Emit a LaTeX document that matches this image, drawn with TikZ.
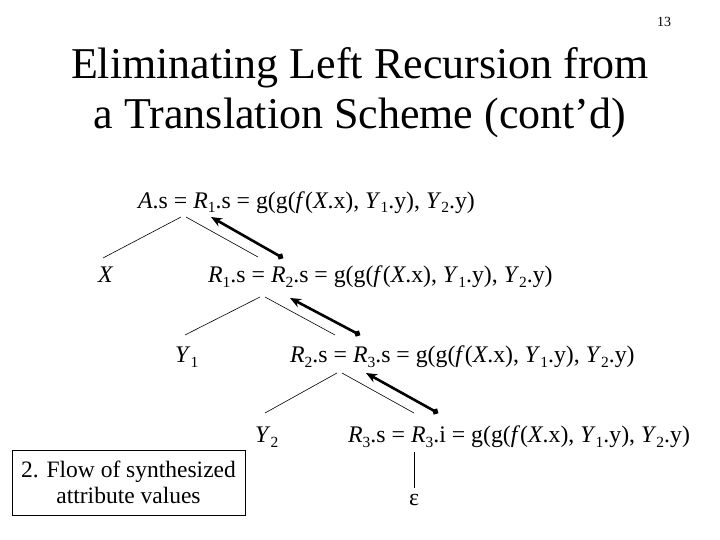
\documentclass[tikz,border=0pt]{standalone}
\usepackage{fontspec}
\setmainfont{Liberation Serif}
\usetikzlibrary{arrows.meta,positioning}
\newcommand{\attr}[2]{\textit{#1}\raisebox{-5pt}{\fontsize{15.5}{15.5}\selectfont #2}}
\newcommand{\gval}{g(g(\textit{f}(\textit{X}.x), \attr{Y}{1}.y), \attr{Y}{2}.y)}

\begin{document}
\begin{tikzpicture}[
    x=1pt, y=-1pt,
    formula/.style={font=\fontsize{23.8}{28}\selectfont, anchor=base west, inner sep=0pt},
    titletext/.style={font=\fontsize{44}{50}\selectfont, align=center, inner sep=0pt},
    treeline/.style={line width=0.6pt},
    flowarrow/.style={line width=2.6pt, {Circle[length=6pt]}-{Stealth[length=11pt,width=9pt]}},
    notebox/.style={draw, line width=0.8pt, minimum width=233pt, minimum height=65pt, align=center, font=\fontsize{23.5}{26}\selectfont}
]
\useasboundingbox (0,0) rectangle (720,540);

% Slide number and title
\node[font=\fontsize{14}{16}\selectfont, inner sep=0pt] (page) at (664,22) {13};
\node[titletext] (title) at (360,93) {Eliminating Left Recursion from\\a Translation Scheme (cont'd)};

% Attribute values in the parse tree
\node[formula] (As) at (138,208) {\textit{A}.s = \attr{R}{1}.s = \gval};
\node[formula] (X) at (98,282) {\textit{X}};
\node[formula] (R1s) at (208,282) {\attr{R}{1}.s = \attr{R}{2}.s = \gval};
\node[formula] (Y1) at (175,362) {\attr{Y}{1}};
\node[formula] (R2s) at (290,362) {\attr{R}{2}.s = \attr{R}{3}.s = \gval};
\node[formula] (Y2) at (255,442) {\attr{Y}{2}};
\node[formula] (R3s) at (348,442) {\attr{R}{3}.s = \attr{R}{3}.i = \gval};
\node[formula, anchor=base] (eps) at (414,505) {ε};

% Branch points
\coordinate (As-l) at (181,217);
\coordinate (As-r) at (186,217);
\coordinate (X-top) at (103,258);
\coordinate (R1s-top) at (258,257);
\coordinate (R1s-l) at (260,297);
\coordinate (R1s-r) at (265,297);
\coordinate (Y1-top) at (185,335);
\coordinate (R2s-top) at (335,335);
\coordinate (R2s-l) at (337,373);
\coordinate (R2s-r) at (342,373);
\coordinate (Y2-top) at (265,413);
\coordinate (R3s-top) at (414,413);
\coordinate (R3s-bot) at (414,452);
\coordinate (eps-top) at (414,488);

\draw[treeline] (As-l) -- (X-top);
\draw[treeline] (As-r) -- (R1s-top);
\draw[treeline] (R1s-l) -- (Y1-top);
\draw[treeline] (R1s-r) -- (R2s-top);
\draw[treeline] (R2s-l) -- (Y2-top);
\draw[treeline] (R2s-r) -- (R3s-top);
\draw[treeline] (R3s-bot) -- (eps-top);

% Synthesized attribute flow
\coordinate (R2-sub) at (283,258);
\coordinate (R1-sub) at (211,217);
\coordinate (R3-sub) at (360,335);
\coordinate (R2-sub-up) at (290,298);
\coordinate (R3i-sub) at (438,413);
\coordinate (R3-sub-up) at (366,373);
\draw[flowarrow] (R2-sub) -- (R1-sub);
\draw[flowarrow] (R3-sub) -- (R2-sub-up);
\draw[flowarrow] (R3i-sub) -- (R3-sub-up);

% Caption box
\node[notebox] (note) at (128.5,482.5) {2. Flow of synthesized\\attribute values};

\end{tikzpicture}
\end{document}
